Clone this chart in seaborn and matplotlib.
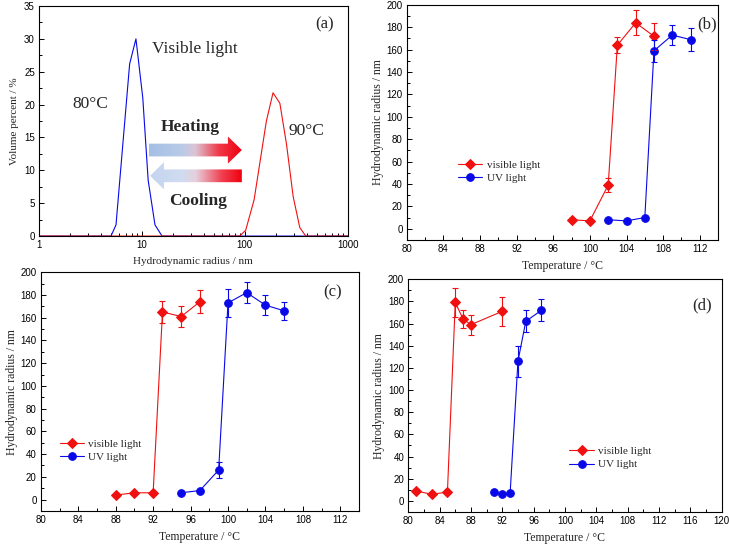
import numpy as np
import matplotlib
matplotlib.use("Agg")
import matplotlib.pyplot as plt
import seaborn as sns
from matplotlib.colors import LinearSegmentedColormap
from matplotlib.patches import Polygon
from matplotlib.ticker import MultipleLocator, LogLocator, NullFormatter

# ---- panel (a): size distributions ----
blue_r = [1, 2, 3, 4, 5.0, 5.6, 7.6, 8.75, 10.2, 11.5, 13.4, 15.7, 20, 100, 1000]
blue_v = [0, 0, 0, 0, 0, 1.7, 26.2, 30.0, 21.0, 8.5, 1.7, 0, 0, 0, 0]
red_r = [1, 10, 89, 102, 123, 162, 188, 219, 254, 295, 342, 391, 1000]
red_v = [0, 0, 0, 0.9, 5.5, 17.5, 21.8, 20.2, 14.0, 6.0, 1.3, 0, 0]

# ---- panel (b) ----
b_vis_t = [98, 100, 102, 103, 105, 107]
b_vis_r = [8, 7, 39, 164, 184, 172]
b_vis_e = [np.nan, np.nan, 6, 7, 11, 12]
b_uv_t = [102, 104, 106, 107, 109, 111]
b_uv_r = [8, 7, 10, 159, 173, 169]
b_uv_e = [np.nan, np.nan, np.nan, 10, 9, 10]

# ---- panel (c) ----
c_vis_t = [88, 90, 92, 93, 95, 97]
c_vis_r = [4, 6, 6, 165, 161, 174]
c_vis_e = [np.nan, np.nan, np.nan, 10, 9, 10]
c_uv_t = [95, 97, 99, 100, 102, 104, 106]
c_uv_r = [6, 8, 26, 173, 182, 171, 166]
c_uv_e = [np.nan, np.nan, 7, 12, 9, 9, 8]

# ---- panel (d) ----
d_vis_t = [81, 83, 85, 86, 87, 88, 92]
d_vis_r = [9, 6, 8, 179, 164, 159, 171]
d_vis_e = [np.nan, np.nan, np.nan, 13, 8, 9, 13]
d_uv_t = [91, 92, 93, 94, 95, 97]
d_uv_r = [8, 6, 7, 126, 162, 172]
d_uv_e = [np.nan, np.nan, np.nan, 14, 10, 10]

RED = "#f01010"
BLUE = "#0808e8"
SANS = "Liberation Sans"
SERIF = "Liberation Serif"

sns.set_style("ticks")
plt.rcParams["font.family"] = [SANS, "DejaVu Sans"]
plt.rcParams["axes.linewidth"] = 0.8

fig = plt.figure(figsize=(7.29, 5.44), dpi=100)
ax_a = fig.add_axes([0.0535, 0.566, 0.4235, 0.423])
ax_b = fig.add_axes([0.558, 0.559, 0.427, 0.432])
ax_c = fig.add_axes([0.056, 0.0607, 0.4365, 0.439])
ax_d = fig.add_axes([0.560, 0.0588, 0.430, 0.428])


def style_ticks(ax):
    ax.tick_params(which="both", direction="in", top=False, right=False,
                   labelsize=7, width=0.7, colors="black")
    ax.tick_params(which="major", length=3.5, pad=3)
    ax.tick_params(which="minor", length=2)
    for s in ax.spines.values():
        s.set_color("black")
        s.set_linewidth(0.8)


# panel (a)
sns.lineplot(x=blue_r, y=blue_v, ax=ax_a, color=BLUE, linewidth=0.8, sort=False)
sns.lineplot(x=red_r, y=red_v, ax=ax_a, color=RED, linewidth=0.8, sort=False)
ax_a.set_xscale("log")
ax_a.set_xlim(1, 1000)
ax_a.set_ylim(0, 35)
ax_a.yaxis.set_major_locator(MultipleLocator(5))
ax_a.yaxis.set_minor_locator(MultipleLocator(2.5))
ax_a.xaxis.set_minor_locator(LogLocator(base=10, subs=np.arange(2, 10)))
ax_a.xaxis.set_minor_formatter(NullFormatter())
ax_a.set_xticks([1, 10, 100, 1000])
ax_a.set_xticklabels(["1", "10", "100", "1000"])
style_ticks(ax_a)
ax_a.set_xlabel("Hydrodynamic radius / nm", family=SERIF, fontsize=8, labelpad=5)
ax_a.set_ylabel("Volume percent / %", family=SERIF, fontsize=8, labelpad=4)

ax_a.text(0.926, 0.92, "(a)", transform=ax_a.transAxes, family=SERIF,
          fontsize=12, ha="center", va="center")
ax_a.text(0.505, 0.813, "Visible light", transform=ax_a.transAxes, family=SERIF,
          fontsize=12.5, ha="center", va="center")
ax_a.text(0.165, 0.574, "80°C", transform=ax_a.transAxes, family=SERIF,
          fontsize=12.5, ha="center", va="center")
ax_a.text(0.867, 0.457, "90°C", transform=ax_a.transAxes, family=SERIF,
          fontsize=12.5, ha="center", va="center")
ax_a.text(0.489, 0.474, "Heating", transform=ax_a.transAxes, family=SERIF,
          fontsize=12.5, fontweight="bold", ha="center", va="center")
ax_a.text(0.515, 0.152, "Cooling", transform=ax_a.transAxes, family=SERIF,
          fontsize=12.5, fontweight="bold", ha="center", va="center")

# gradient arrows
grad = LinearSegmentedColormap.from_list(
    "heat", [(0, "#a5bfe3"), (0.35, "#b8cbe8"), (0.5, "#dcc4d4"),
             (0.75, "#ef3a48"), (1, "#f00010")])
grad_cool = LinearSegmentedColormap.from_list(
    "cool", [(0, "#c4d5f0"), (0.35, "#d0dcf0"), (0.5, "#e6cfdb"),
             (0.78, "#f04050"), (1, "#f00010")])


def gradient_arrow(ax, x0, x1, yc, half_h, body_frac, head_frac, right, cmap):
    ins = ax.inset_axes([x0, yc - half_h, x1 - x0, 2 * half_h])
    ins.set_axis_off()
    ins.set_xlim(0, 1)
    ins.set_ylim(0, 1)
    img = ins.imshow(np.linspace(0, 1, 256).reshape(1, -1), cmap=cmap,
                     extent=[0, 1, 0, 1], aspect="auto", origin="lower")
    b0, b1 = 0.5 - body_frac / 2, 0.5 + body_frac / 2
    if right:
        hb = 1 - head_frac
        pts = [(0, b0), (hb, b0), (hb, 0), (1, 0.5), (hb, 1), (hb, b1), (0, b1)]
    else:
        hb = head_frac
        pts = [(1, b0), (hb, b0), (hb, 0), (0, 0.5), (hb, 1), (hb, b1), (1, b1)]
    poly = Polygon(pts, closed=True, transform=ins.transData, facecolor="none",
                   edgecolor="none")
    ins.add_patch(poly)
    img.set_clip_path(poly)


gradient_arrow(ax_a, 0.356, 0.657, 0.374, 0.059, 0.47, 0.15, True, grad)
gradient_arrow(ax_a, 0.360, 0.657, 0.262, 0.059, 0.47, 0.15, False, grad_cool)


def temp_panel(ax, vt, vr, ve, ut, ur, ue, xmax, label, lab_xy, leg_xy):
    sns.lineplot(x=vt, y=vr, ax=ax, color=RED, marker="D", markersize=5.5,
                 markeredgecolor=RED, linewidth=0.8, sort=False,
                 label="visible light")
    sns.lineplot(x=ut, y=ur, ax=ax, color=BLUE, marker="o", markersize=5.5,
                 markeredgecolor=BLUE, linewidth=0.8, sort=False,
                 label="UV light")
    ax.errorbar(vt, vr, yerr=ve, fmt="none", ecolor=RED, elinewidth=0.8,
                capsize=2, capthick=0.8)
    ax.errorbar(ut, ur, yerr=ue, fmt="none", ecolor=BLUE, elinewidth=0.8,
                capsize=2, capthick=0.8)
    ax.set_xlim(80, xmax)
    ax.set_ylim(-10, 200)
    ax.xaxis.set_major_locator(MultipleLocator(4))
    ax.xaxis.set_minor_locator(MultipleLocator(2))
    ax.yaxis.set_major_locator(MultipleLocator(20))
    ax.yaxis.set_minor_locator(MultipleLocator(10))
    style_ticks(ax)
    ax.set_xlabel("Temperature / °C", family=SERIF, fontsize=8.5, labelpad=4)
    ax.set_ylabel("Hydrodynamic radius / nm", family=SERIF, fontsize=8.5,
                  labelpad=2)
    ax.text(lab_xy[0], lab_xy[1], label, transform=ax.transAxes, family=SERIF,
            fontsize=12, ha="center", va="center")
    ax.legend(loc="upper left", bbox_to_anchor=leg_xy, frameon=False,
              prop={"family": SERIF, "size": 8}, handlelength=2.2,
              handletextpad=0.4, labelspacing=0.3, borderaxespad=0)


temp_panel(ax_b, b_vis_t, b_vis_r, b_vis_e, b_uv_t, b_uv_r, b_uv_e, 114,
           "(b)", (0.965, 0.919), (0.15, 0.36))
temp_panel(ax_c, c_vis_t, c_vis_r, c_vis_e, c_uv_t, c_uv_r, c_uv_e, 114,
           "(c)", (0.918, 0.916), (0.045, 0.32))
temp_panel(ax_d, d_vis_t, d_vis_r, d_vis_e, d_uv_t, d_uv_r, d_uv_e, 120,
           "(d)", (0.936, 0.888), (0.50, 0.30))

fig.savefig("out.png", dpi=100)
